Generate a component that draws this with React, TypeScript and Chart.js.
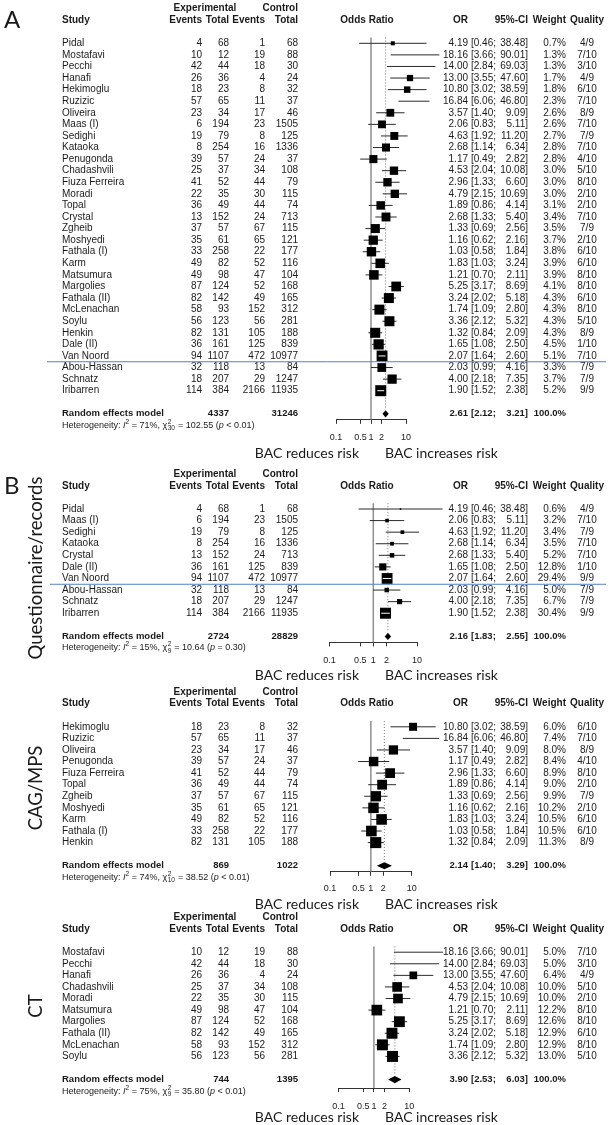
import React, { useEffect, useRef } from 'react';
import { Chart, registerables } from 'chart.js';

Chart.register(...registerables);

// ---------------- data ----------------
const studies = ['Pidal', 'Mostafavi', 'Pecchi', 'Hanafi', 'Hekimoglu', 'Ruzizic', 'Oliveira', 'Maas (I)', 'Sedighi', 'Kataoka', 'Penugonda', 'Chadashvili', 'Fiuza Ferreira', 'Moradi', 'Topal', 'Crystal', 'Zgheib', 'Moshyedi', 'Fathala (I)', 'Karm', 'Matsumura', 'Margolies', 'Fathala (II)', 'McLenachan', 'Soylu', 'Henkin', 'Dale (II)', 'Van Noord', 'Abou-Hassan', 'Schnatz', 'Iribarren'];
const expEvents = [4, 10, 42, 26, 18, 57, 23, 6, 19, 8, 39, 25, 41, 22, 36, 13, 37, 35, 33, 49, 49, 87, 82, 58, 56, 82, 36, 94, 32, 18, 114];
const expTotal = [68, 12, 44, 36, 23, 65, 34, 194, 79, 254, 57, 37, 52, 35, 49, 152, 57, 61, 258, 82, 98, 124, 142, 93, 123, 131, 161, 1107, 118, 207, 384];
const ctrlEvents = [1, 19, 18, 4, 8, 11, 17, 23, 8, 16, 24, 34, 44, 30, 44, 24, 67, 65, 22, 52, 47, 52, 49, 152, 56, 105, 125, 472, 13, 29, 2166];
const ctrlTotal = [68, 88, 30, 24, 32, 37, 46, 1505, 125, 1336, 37, 108, 79, 115, 74, 713, 115, 121, 177, 116, 104, 168, 165, 312, 281, 188, 839, 10977, 84, 1247, 11935];
const oddsRatio = [4.19, 18.16, 14.0, 13.0, 10.8, 16.84, 3.57, 2.06, 4.63, 2.68, 1.17, 4.53, 2.96, 4.79, 1.89, 2.68, 1.33, 1.16, 1.03, 1.83, 1.21, 5.25, 3.24, 1.74, 3.36, 1.32, 1.65, 2.07, 2.03, 4.0, 1.9];
const ciLower = [0.46, 3.66, 2.84, 3.55, 3.02, 6.06, 1.4, 0.83, 1.92, 1.14, 0.49, 2.04, 1.33, 2.15, 0.86, 1.33, 0.69, 0.62, 0.58, 1.03, 0.7, 3.17, 2.02, 1.09, 2.12, 0.84, 1.08, 1.64, 0.99, 2.18, 1.52];
const ciUpper = [38.48, 90.01, 69.03, 47.6, 38.59, 46.8, 9.09, 5.11, 11.2, 6.34, 2.82, 10.08, 6.6, 10.69, 4.14, 5.4, 2.56, 2.16, 1.84, 3.24, 2.11, 8.69, 5.18, 2.8, 5.32, 2.09, 2.5, 2.6, 4.16, 7.35, 2.38];
const overallWeight = [0.7, 1.3, 1.3, 1.7, 1.8, 2.3, 2.6, 2.6, 2.7, 2.8, 2.8, 3.0, 3.0, 3.0, 3.1, 3.4, 3.5, 3.7, 3.8, 3.9, 3.9, 4.1, 4.3, 4.3, 4.3, 4.3, 4.5, 5.1, 3.3, 3.7, 5.2];
const overallQuality = ['4/9', '7/10', '3/10', '4/9', '6/10', '7/10', '8/9', '7/10', '7/9', '7/10', '4/10', '5/10', '8/10', '2/10', '2/10', '7/10', '7/9', '2/10', '6/10', '6/10', '8/10', '8/10', '6/10', '8/10', '5/10', '8/9', '1/10', '7/10', '7/9', '7/9', '9/9'];

const questStudies = ['Pidal', 'Maas (I)', 'Sedighi', 'Kataoka', 'Crystal', 'Dale (II)', 'Van Noord', 'Abou-Hassan', 'Schnatz', 'Iribarren'];
const questWeight = [0.6, 3.2, 3.4, 3.5, 5.2, 12.8, 29.4, 5.0, 6.7, 30.4];
const questQuality = ['4/9', '7/10', '7/9', '7/10', '7/10', '1/10', '9/9', '7/9', '7/9', '9/9'];

const cagStudies = ['Hekimoglu', 'Ruzizic', 'Oliveira', 'Penugonda', 'Fiuza Ferreira', 'Topal', 'Zgheib', 'Moshyedi', 'Karm', 'Fathala (I)', 'Henkin'];
const cagWeight = [6.0, 7.4, 8.0, 8.4, 8.9, 9.0, 9.9, 10.2, 10.5, 10.5, 11.3];
const cagQuality = ['6/10', '7/10', '8/9', '4/10', '8/10', '2/10', '7/9', '2/10', '6/10', '6/10', '8/9'];

const ctStudies = ['Mostafavi', 'Pecchi', 'Hanafi', 'Chadashvili', 'Moradi', 'Matsumura', 'Margolies', 'Fathala (II)', 'McLenachan', 'Soylu'];
const ctWeight = [5.0, 5.0, 6.4, 10.0, 10.0, 12.2, 12.6, 12.9, 12.9, 13.0];
const ctQuality = ['7/10', '3/10', '4/9', '5/10', '2/10', '8/10', '8/10', '6/10', '8/10', '5/10'];

const pooledExpTotal = [4337, 2724, 869, 744];
const pooledCtrlTotal = [31246, 28829, 1022, 1395];
const pooledOR = [2.61, 2.16, 2.14, 3.9];
const pooledLower = [2.12, 1.83, 1.4, 2.53];
const pooledUpper = [3.21, 2.55, 3.29, 6.03];
const hetI2 = [71, 15, 74, 75];
const hetChi2 = [102.55, 10.64, 38.52, 35.8];
const hetDf = [30, 9, 10, 9];
const hetP = ['< 0.01', '= 0.30', '< 0.01', '< 0.01'];
const axisTicks = [0.1, 0.5, 1, 2, 10];
const subgroupLabels = ['', 'Questionnaire/records', 'CAG/MPS', 'CT'];
const panelLetters = ['A', 'B', '', ''];
const leftLabel = 'BAC reduces risk';
const rightLabel = 'BAC increases risk';

// ---------------- layout / style ----------------
const ROW = 11.58;
const W = 610;
const SANS = "'Liberation Sans', Arial, Helvetica, sans-serif";
const HUM = "Lato, 'Open Sans', sans-serif";
const INK = '#1a1a1a';
const COL = {
  name: 62, expEv: 202, expTot: 229, ctlEv: 265, ctlTot: 298, expHead: 205,
  forestHead: 367, orRight: 468, ciLeft: 471, ciRight: 528, wRight: 566, qCenter: 587,
  bacRight: 359, bacLeft: 385, rotX: 36, letterX: 4,
};
const SQUARE_MAX = 11;
const PANELS = [
  { top: 0, bottom: 468, row0: 43.3, xLow: 336, xHigh: 406, axisGap: 6, tickPad: 8, bacGap: 40, blueRow: 27, blueX0: 47, letterY: 20, labelY: 0 },
  { top: 464, bottom: 688, row0: 509, xLow: 329.6, xHigh: 417, axisGap: 6, tickPad: 8.5, bacGap: 39.5, blueRow: 6, blueX0: 50, letterY: 486, labelY: 568 },
  { top: 684, bottom: 914, row0: 726.8, xLow: 330, xHigh: 411.7, axisGap: 6, tickPad: 7, bacGap: 38.5, blueRow: -1, blueX0: 0, letterY: 0, labelY: 788 },
  { top: 910, bottom: 1125, row0: 952.2, xLow: 338.5, xHigh: 409.3, axisGap: 8.5, tickPad: 9, bacGap: 38, blueRow: -1, blueX0: 0, letterY: 0, labelY: 1006 },
];

type Row = { name: string; ee: number; et: number; ce: number; ct: number; or: number; lo: number; hi: number; w: number; q: string };

function buildRows(panel: number): Row[] {
  const names = [studies, questStudies, cagStudies, ctStudies][panel];
  const weights = [overallWeight, questWeight, cagWeight, ctWeight][panel];
  const quals = [overallQuality, questQuality, cagQuality, ctQuality][panel];
  return names.map((n, i) => {
    const k = studies.indexOf(n);
    return { name: n, ee: expEvents[k], et: expTotal[k], ce: ctrlEvents[k], ct: ctrlTotal[k], or: oddsRatio[k], lo: ciLower[k], hi: ciUpper[k], w: weights[i], q: quals[i] };
  });
}

function put(ctx: CanvasRenderingContext2D, s: string, x: number, y: number, align: CanvasTextAlign, font: string) {
  ctx.font = font;
  ctx.textAlign = align;
  ctx.textBaseline = 'middle';
  ctx.fillText(s, x, y);
}

function ForestPanel({ idx }: { idx: number }) {
  const ref = useRef<HTMLCanvasElement>(null);
  const p = PANELS[idx];
  const H = p.bottom - p.top;

  useEffect(() => {
    const rows = buildRows(idx);
    const n = rows.length;
    const wmax = Math.max(...rows.map((r) => r.w));
    const side = (w: number) => SQUARE_MAX * Math.sqrt(w / wmax);
    const row0c = p.row0 - p.top;
    const tickFont = 9;
    const tickLen = 4;
    const axisH = tickLen + tickFont * 1.2 + 2 * p.tickPad;
    const axisYc = row0c + (n + 1) * ROW + p.axisGap;
    const yMin = -1;
    const yMax = n + 1 + p.axisGap / ROW;
    const padTop = row0c + yMin * ROW;
    const padBottom = H - axisYc - axisH;

    const ciPoints: any[] = [];
    rows.forEach((r, i) => {
      ciPoints.push({ x: r.lo, y: i }, { x: r.hi, y: i }, { x: r.hi, y: null });
    });

    const plugin = {
      id: 'forestTable' + idx,
      afterDatasetsDraw(chart: any) {
        const ctx: CanvasRenderingContext2D = chart.ctx;
        const xs = chart.scales.x;
        const ys = chart.scales.y;
        ctx.save();
        // confidence interval drawn in white when it lies completely inside the square
        rows.forEach((r, i) => {
          const cx = xs.getPixelForValue(r.or);
          const half = side(r.w) / 2;
          const xl = xs.getPixelForValue(r.lo);
          const xr = xs.getPixelForValue(r.hi);
          if (xl >= cx - half && xr <= cx + half) {
            const y = ys.getPixelForValue(i);
            ctx.strokeStyle = '#ffffff';
            ctx.lineWidth = 1;
            ctx.beginPath();
            ctx.moveTo(xl, y);
            ctx.lineTo(xr, y);
            ctx.stroke();
          }
        });
        // pooled diamond
        const yd = ys.getPixelForValue(n + 1);
        const dl = xs.getPixelForValue(pooledLower[idx]);
        const dr = xs.getPixelForValue(pooledUpper[idx]);
        const dc = xs.getPixelForValue(pooledOR[idx]);
        ctx.fillStyle = '#000';
        ctx.beginPath();
        ctx.moveTo(dl, yd);
        ctx.lineTo(dc, yd - 3.6);
        ctx.lineTo(dr, yd);
        ctx.lineTo(dc, yd + 3.6);
        ctx.closePath();
        ctx.fill();
        ctx.restore();
      },
      afterDraw(chart: any) {
        const ctx: CanvasRenderingContext2D = chart.ctx;
        const ys = chart.scales.y;
        const Y = (v: number) => ys.getPixelForValue(v);
        const body = `10px ${SANS}`;
        const bold = `bold 10px ${SANS}`;
        const sumBold = `bold 9.5px ${SANS}`;
        ctx.save();
        ctx.fillStyle = INK;
        // headers
        const h1 = Y(-3);
        const h2 = Y(-2);
        put(ctx, 'Experimental', COL.expHead, h1, 'center', bold);
        put(ctx, 'Control', COL.ctlTot, h1, 'right', bold);
        put(ctx, 'Study', COL.name, h2, 'left', bold);
        put(ctx, 'Events', COL.expEv, h2, 'right', bold);
        put(ctx, 'Total', COL.expTot, h2, 'right', bold);
        put(ctx, 'Events', COL.ctlEv, h2, 'right', bold);
        put(ctx, 'Total', COL.ctlTot, h2, 'right', bold);
        put(ctx, 'Odds Ratio', COL.forestHead, h2, 'center', bold);
        put(ctx, 'OR', COL.orRight, h2, 'right', bold);
        put(ctx, '95%-CI', COL.ciRight, h2, 'right', bold);
        put(ctx, 'Weight', COL.wRight, h2, 'right', bold);
        put(ctx, 'Quality', COL.qCenter, h2, 'center', bold);
        // study rows
        rows.forEach((r, i) => {
          const y = Y(i);
          put(ctx, r.name, COL.name, y, 'left', body);
          put(ctx, String(r.ee), COL.expEv, y, 'right', body);
          put(ctx, String(r.et), COL.expTot, y, 'right', body);
          put(ctx, String(r.ce), COL.ctlEv, y, 'right', body);
          put(ctx, String(r.ct), COL.ctlTot, y, 'right', body);
          put(ctx, r.or.toFixed(2), COL.orRight, y, 'right', body);
          put(ctx, '[' + r.lo.toFixed(2) + ';', COL.ciLeft, y, 'left', body);
          put(ctx, r.hi.toFixed(2) + ']', COL.ciRight, y, 'right', body);
          put(ctx, r.w.toFixed(1) + '%', COL.wRight, y, 'right', body);
          put(ctx, r.q, COL.qCenter, y, 'center', body);
        });
        // pooled row
        const ys2 = Y(n + 1);
        put(ctx, 'Random effects model', COL.name, ys2, 'left', sumBold);
        put(ctx, String(pooledExpTotal[idx]), COL.expTot, ys2, 'right', sumBold);
        put(ctx, String(pooledCtrlTotal[idx]), COL.ctlTot, ys2, 'right', sumBold);
        put(ctx, pooledOR[idx].toFixed(2), COL.orRight, ys2, 'right', sumBold);
        put(ctx, '[' + pooledLower[idx].toFixed(2) + ';', COL.ciLeft, ys2, 'left', sumBold);
        put(ctx, pooledUpper[idx].toFixed(2) + ']', COL.ciRight, ys2, 'right', sumBold);
        put(ctx, '100.0%', COL.wRight, ys2, 'right', sumBold);
        // heterogeneity
        const yh = Y(n + 2);
        let cx = COL.name;
        const f = (s: number, st = '') => `${st}${s}px ${SANS}`;
        const run = (t: string, font: string, dy = 0) => {
          ctx.font = font;
          ctx.textAlign = 'left';
          ctx.textBaseline = 'middle';
          ctx.fillText(t, cx, yh + dy);
          cx += ctx.measureText(t).width;
        };
        run('Heterogeneity: ', f(9));
        run('I', f(9, 'italic '));
        run('2', f(6.5), -3.3);
        run(` = ${hetI2[idx]}%, `, f(9));
        run('\u03c7', f(9));
        ctx.font = f(6.5);
        const wSup = ctx.measureText('2').width;
        const wSub = ctx.measureText(String(hetDf[idx])).width;
        ctx.fillText('2', cx + 0.5, yh - 3.3);
        ctx.fillText(String(hetDf[idx]), cx + 0.5, yh + 3.2);
        cx += Math.max(wSup, wSub) + 1;
        run(` = ${hetChi2[idx].toFixed(2)} (`, f(9));
        run('p', f(9, 'italic '));
        run(` ${hetP[idx]})`, f(9));
        // direction labels
        const yb = ys2 + p.bacGap;
        put(ctx, leftLabel, COL.bacRight, yb, 'right', `14px ${HUM}`);
        put(ctx, rightLabel, COL.bacLeft, yb, 'left', `14px ${HUM}`);
        // panel letter
        if (panelLetters[idx]) {
          put(ctx, panelLetters[idx], COL.letterX, p.letterY - p.top, 'left', `24px ${HUM}`);
        }
        // rotated subgroup label
        if (subgroupLabels[idx]) {
          ctx.save();
          ctx.translate(COL.rotX, p.labelY - p.top);
          ctx.rotate(-Math.PI / 2);
          put(ctx, subgroupLabels[idx], 0, 0, 'center', `18.5px ${HUM}`);
          ctx.restore();
        }
        // blue separator line
        if (p.blueRow >= 0) {
          const yl = (Y(p.blueRow) + Y(p.blueRow + 1)) / 2;
          ctx.strokeStyle = '#4f7fcb';
          ctx.lineWidth = 1;
          ctx.beginPath();
          ctx.moveTo(p.blueX0, yl);
          ctx.lineTo(606, yl);
          ctx.stroke();
        }
        ctx.restore();
      },
    };

    const chart = new Chart(ref.current as HTMLCanvasElement, {
      type: 'scatter',
      data: {
        datasets: [
          {
            type: 'line', label: 'no effect', data: [{ x: 1, y: -0.5 }, { x: 1, y: yMax }],
            borderColor: '#8f8f8f', borderWidth: 1.5, pointRadius: 0, order: 5,
          } as any,
          {
            type: 'line', label: 'pooled', data: [{ x: pooledOR[idx], y: -0.5 }, { x: pooledOR[idx], y: n + 0.5 }],
            borderColor: '#7a7a7a', borderWidth: 1, borderDash: [1, 2], pointRadius: 0, order: 4,
          },
          {
            type: 'line', label: 'CI', data: ciPoints, borderColor: '#2a2a2a', borderWidth: 1,
            pointRadius: 0, spanGaps: false, order: 3, clip: false,
          },
          {
            type: 'scatter', label: 'OR', data: rows.map((r, i) => ({ x: r.or, y: i })),
            pointStyle: 'rect', pointRadius: rows.map((r) => side(r.w) / Math.SQRT2),
            backgroundColor: '#000', borderWidth: 0, order: 1, clip: false,
          },
        ],
      },
      options: {
        animation: false,
        responsive: false,
        maintainAspectRatio: false,
        devicePixelRatio: 1,
        events: [],
        layout: { padding: { left: p.xLow, right: W - p.xHigh, top: padTop, bottom: padBottom } },
        plugins: { legend: { display: false }, tooltip: { enabled: false }, title: { display: false } },
        scales: {
          x: {
            type: 'logarithmic', min: 0.1, max: 10, position: 'bottom',
            afterBuildTicks: (sc: any) => { sc.ticks = axisTicks.map((v) => ({ value: v })); },
            ticks: {
              autoSkip: false, maxRotation: 0, minRotation: 0, padding: p.tickPad, color: INK,
              font: { family: SANS, size: tickFont },
              callback: (v: any) => String(v),
            },
            grid: { display: true, drawOnChartArea: false, drawTicks: true, tickLength: tickLen, color: '#333', lineWidth: 1 },
            border: { display: true, color: '#333', width: 1 },
          },
          y: { type: 'linear', reverse: true, min: yMin, max: yMax, display: false },
        },
      } as any,
      plugins: [plugin],
    } as any);
    return () => chart.destroy();
  }, [idx]);

  return (
    <canvas
      ref={ref}
      width={W}
      height={H}
      style={{ position: 'absolute', left: 0, top: p.top, width: W, height: H }}
    />
  );
}

export default function App() {
  return (
    <div style={{ position: 'absolute', left: 0, top: 0, width: W, height: 1125, background: '#fff', overflow: 'hidden' }}>
      {PANELS.map((_, i) => (
        <ForestPanel key={i} idx={i} />
      ))}
    </div>
  );
}
